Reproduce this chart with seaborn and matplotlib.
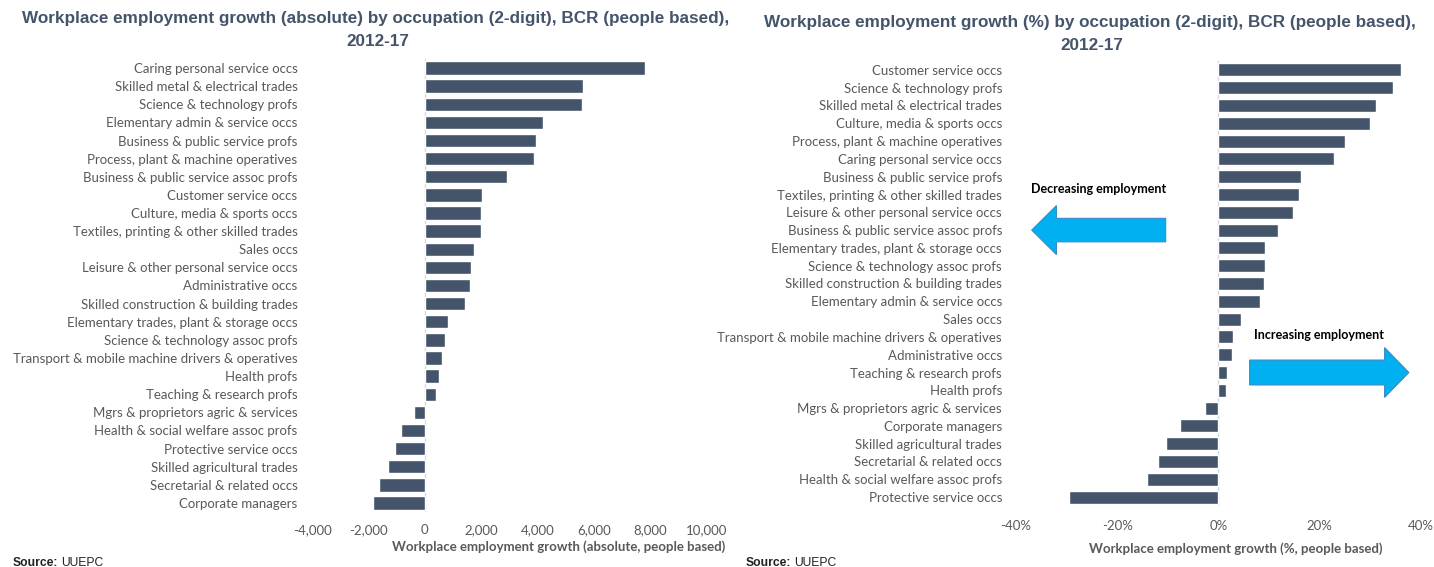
import numpy as np
import pandas as pd
import matplotlib
matplotlib.use("Agg")
import matplotlib.pyplot as plt
from matplotlib.patches import Polygon
from matplotlib.ticker import FuncFormatter, FixedLocator
import seaborn as sns

# ---- data: absolute growth (people), 2012-17 ----
abs_categories = [
    "Caring personal service occs",
    "Skilled metal & electrical trades",
    "Science & technology profs",
    "Elementary admin & service occs",
    "Business & public service profs",
    "Process, plant & machine operatives",
    "Business & public service assoc profs",
    "Customer service occs",
    "Culture, media & sports occs",
    "Textiles, printing & other skilled trades",
    "Sales occs",
    "Leisure & other personal service occs",
    "Administrative occs",
    "Skilled construction & building trades",
    "Elementary trades, plant & storage occs",
    "Science & technology assoc profs",
    "Transport & mobile machine drivers & operatives",
    "Health profs",
    "Teaching & research profs",
    "Mgrs & proprietors agric & services",
    "Health & social welfare assoc profs",
    "Protective service occs",
    "Skilled agricultural trades",
    "Secretarial & related occs",
    "Corporate managers",
]
abs_values = [7800, 5620, 5585, 4170, 3935, 3885, 2925, 2035, 2005, 2000,
              1750, 1630, 1600, 1430, 825, 705, 605, 505, 385,
              -370, -840, -1060, -1295, -1615, -1835]
abs_ticks = [-4000, -2000, 0, 2000, 4000, 6000, 8000, 10000]

# ---- data: percentage growth, 2012-17 ----
pct_categories = [
    "Customer service occs",
    "Science & technology profs",
    "Skilled metal & electrical trades",
    "Culture, media & sports occs",
    "Process, plant & machine operatives",
    "Caring personal service occs",
    "Business & public service profs",
    "Textiles, printing & other skilled trades",
    "Leisure & other personal service occs",
    "Business & public service assoc profs",
    "Elementary trades, plant & storage occs",
    "Science & technology assoc profs",
    "Skilled construction & building trades",
    "Elementary admin & service occs",
    "Sales occs",
    "Transport & mobile machine drivers & operatives",
    "Administrative occs",
    "Teaching & research profs",
    "Health profs",
    "Mgrs & proprietors agric & services",
    "Corporate managers",
    "Skilled agricultural trades",
    "Secretarial & related occs",
    "Health & social welfare assoc profs",
    "Protective service occs",
]
pct_values = [36.1, 34.5, 31.2, 30.0, 25.1, 22.8, 16.3, 15.9, 14.7, 11.9,
              9.2, 9.2, 9.0, 8.3, 4.5, 2.9, 2.7, 1.8, 1.6,
              -2.7, -7.5, -10.3, -12.0, -14.0, -29.6]
pct_ticks = [-40, -20, 0, 20, 40]

BAR = "#44546A"
TITLE = "#44546A"
GREY = "#595959"
ARROW = "#00B0F0"
LABEL_FONT = ["Lato", "DejaVu Sans"]
HEAD_FONT = ["Liberation Sans", "DejaVu Sans"]

sns.set_theme(style="white")
plt.rcParams["font.family"] = LABEL_FONT

W, H = 1434, 567
fig = plt.figure(figsize=(W / 100, H / 100), dpi=100)


def px_axes(x0, x1, ytop, ybot):
    return fig.add_axes([x0 / W, 1 - ybot / H, (x1 - x0) / W, (ybot - ytop) / H])


def style_axes(ax, ticks, fmt, pad_y, pad_x):
    ax.set_xlim(ticks[0], ticks[-1])
    ax.xaxis.set_major_locator(FixedLocator(ticks))
    ax.xaxis.set_major_formatter(FuncFormatter(fmt))
    for s in ax.spines.values():
        s.set_visible(False)
    ax.axvline(0, color="#D9D9D9", lw=1.0, zorder=0)
    ax.tick_params(axis="both", length=0, colors=GREY, labelsize=9.5)
    ax.tick_params(axis="y", pad=pad_y)
    ax.tick_params(axis="x", pad=pad_x)
    ax.set_ylabel("")
    ax.grid(False)


# ---- left panel: absolute growth ----
ax1 = px_axes(312, 707, 59, 512)
df_abs = pd.DataFrame({"occupation": abs_categories, "growth": abs_values})
sns.barplot(data=df_abs, x="growth", y="occupation", ax=ax1, color=BAR,
            saturation=1, width=0.74, order=abs_categories)
style_axes(ax1, abs_ticks, lambda v, p: f"{v:,.0f}", 10.5, 9)
ax1.set_xlabel("Workplace employment growth (absolute, people based)",
               fontsize=9.5, fontweight="bold", color=GREY)
ax1.xaxis.set_label_coords(0.624, -0.062)

# ---- right panel: percentage growth ----
ax2 = px_axes(1016, 1420.5, 61, 506)
df_pct = pd.DataFrame({"occupation": pct_categories, "growth": pct_values})
sns.barplot(data=df_pct, x="growth", y="occupation", ax=ax2, color=BAR,
            saturation=1, width=0.74, order=pct_categories)
style_axes(ax2, pct_ticks, lambda v, p: f"{v:.0f}%", 10, 10)
ax2.set_xlabel("Workplace employment growth (%, people based)",
               fontsize=9.5, fontweight="bold", color=GREY)
ax2.xaxis.set_label_coords(0.544, -0.082)


def h_arrow(ax, x_tail, x_base, x_tip, y, body, head):
    pts = [(x_tail, y - body), (x_base, y - body), (x_base, y - head),
           (x_tip, y), (x_base, y + head), (x_base, y + body), (x_tail, y + body)]
    ax.add_patch(Polygon(pts, closed=True, facecolor=ARROW,
                         edgecolor="#3A8CC8", lw=0.8, zorder=3, clip_on=False))


# direction markers on the percentage panel
h_arrow(ax2, -10.4, -32.0, -36.9, 9.0, 0.66, 1.38)
ax2.text(-23.7, 6.7, "Decreasing employment", ha="center", va="center",
         fontsize=9, fontweight="bold", color="black")
h_arrow(ax2, 6.2, 32.9, 37.7, 17.0, 0.7, 1.4)
ax2.text(19.9, 14.9, "Increasing employment", ha="center", va="center",
         fontsize=9, fontweight="bold", color="black")

# ---- titles ----
TSIZE = 12.3
fig.text(376 / W, 1 - 18 / H,
         "Workplace employment growth (absolute) by occupation (2-digit), BCR (people based),",
         ha="center", va="center", fontsize=TSIZE, fontweight="bold", color=TITLE,
         family=HEAD_FONT)
fig.text(378 / W, 1 - 42 / H, "2012-17", ha="center", va="center", fontsize=TSIZE,
         fontweight="bold", color=TITLE, family=HEAD_FONT)
fig.text(1090 / W, 1 - 22 / H,
         "Workplace employment growth (%) by occupation (2-digit), BCR (people based),",
         ha="center", va="center", fontsize=TSIZE, fontweight="bold", color=TITLE,
         family=HEAD_FONT)
fig.text(1092 / W, 1 - 45 / H, "2012-17", ha="center", va="center", fontsize=TSIZE,
         fontweight="bold", color=TITLE, family=HEAD_FONT)

# ---- source notes ----
for x0 in (13, 746):
    t = fig.text(x0 / W, 1 - 563 / H, "Source:", ha="left", va="center",
                 fontsize=8.7, fontweight="bold", color="#222222", family=HEAD_FONT)
    fig.canvas.draw()
    bb = t.get_window_extent()
    fig.text((bb.x1 + 3) / W, 1 - 563 / H, "UUEPC", ha="left", va="center",
             fontsize=8.7, color="#222222", family=HEAD_FONT)

fig.savefig("out.png", dpi=100, facecolor="white")
